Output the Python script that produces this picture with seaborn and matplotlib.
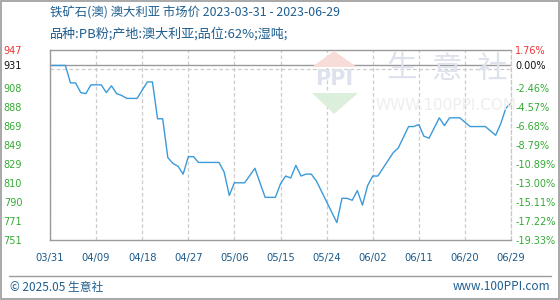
import matplotlib
matplotlib.use("Agg")
import matplotlib.pyplot as plt
from matplotlib.patches import Polygon
from matplotlib.lines import Line2D
import seaborn as sns
import pandas as pd

# ---------------- data ----------------
dates = ["2023-03-31", "2023-04-03", "2023-04-04", "2023-04-05", "2023-04-06", "2023-04-07",
         "2023-04-08", "2023-04-10", "2023-04-11", "2023-04-12", "2023-04-13", "2023-04-14",
         "2023-04-15", "2023-04-17", "2023-04-19", "2023-04-20", "2023-04-21", "2023-04-22",
         "2023-04-23", "2023-04-24", "2023-04-25", "2023-04-26", "2023-04-27", "2023-04-28",
         "2023-04-29", "2023-05-03", "2023-05-04", "2023-05-05", "2023-05-06", "2023-05-08",
         "2023-05-10", "2023-05-12", "2023-05-14", "2023-05-15", "2023-05-16", "2023-05-17",
         "2023-05-18", "2023-05-19", "2023-05-20", "2023-05-21", "2023-05-22", "2023-05-26",
         "2023-05-27", "2023-05-28", "2023-05-29", "2023-05-30", "2023-05-31", "2023-06-01",
         "2023-06-02", "2023-06-03", "2023-06-06", "2023-06-07", "2023-06-09", "2023-06-10",
         "2023-06-11", "2023-06-12", "2023-06-13", "2023-06-15", "2023-06-16", "2023-06-17",
         "2023-06-19", "2023-06-21", "2023-06-24", "2023-06-26", "2023-06-27", "2023-06-28",
         "2023-06-29"]
prices = [931, 931, 913, 913, 903, 902,
          911, 911, 903, 910, 902, 900,
          897, 897, 914, 914, 876, 876,
          836, 830, 827, 819, 837, 837,
          831, 831, 821, 797, 810, 810,
          825, 795, 795, 809, 817, 815,
          828, 817, 819, 819, 812, 769,
          794, 794, 792, 802, 787, 807,
          817, 817, 841, 846, 868, 868,
          870, 858, 856, 877, 869, 877,
          877, 868, 868, 859, 871, 887,
          892]

x_tick_dates = ["2023-03-31", "2023-04-09", "2023-04-18", "2023-04-27", "2023-05-06", "2023-05-15",
                "2023-05-24", "2023-06-02", "2023-06-11", "2023-06-20", "2023-06-29"]
x_tick_labels = ["03/31", "04/09", "04/18", "04/27", "05/06", "05/15",
                 "05/24", "06/02", "06/11", "06/20", "06/29"]

base_price = 931
grid_values = [751.04, 770.68, 790.32, 809.96, 829.60, 849.24, 868.88, 888.52, 908.16, 927.80, 947.44]
left_tick_values = [751.04, 770.68, 790.32, 809.96, 829.60, 849.24, 868.88, 888.52, 908.16, 931, 947.44]
left_tick_labels = ["751", "771", "790", "810", "829", "849", "869", "888", "908", "931", "947"]
right_tick_labels = ["-19.33%", "-17.22%", "-15.11%", "-13.00%", "-10.89%", "-8.79%", "-6.68%",
                     "-4.57%", "-2.46%", "0.00%", "1.76%"]

title = "铁矿石(澳) 澳大利亚 市场价 2023-03-31 - 2023-06-29"
subtitle = "品种:PB粉;产地:澳大利亚;品位:62%;湿吨;"
footer_left = "© 2025.05 生意社"
footer_right = "www.100PPI.com"

# ---------------- style ----------------
sns.set_theme(style="white")
plt.rcParams['font.family'] = ['Noto Sans CJK SC', 'DejaVu Sans']
plt.rcParams['axes.unicode_minus'] = False

W, H = 560, 300
fig = plt.figure(figsize=(W / 100, H / 100), dpi=100)
fig.patch.set_facecolor("white")


def fx(x):
    return x / W


def fy(y):
    return 1 - y / H


# watermark (behind the axes)
wm_color = "#dde2ec"
fig.patches.append(Polygon([(fx(312), fy(67)), (fx(334), fy(51)), (fx(357), fy(67))],
                           closed=True, transform=fig.transFigure, facecolor="#f7dcd8",
                           edgecolor="none", zorder=0))
fig.patches.append(Polygon([(fx(312), fy(93)), (fx(358), fy(93)), (fx(334), fy(114))],
                           closed=True, transform=fig.transFigure, facecolor="#dcefdc",
                           edgecolor="none", zorder=0))
fig.text(fx(334), fy(79), "PPI", fontsize=15, color=wm_color, ha="center", va="center",
         family="DejaVu Sans", fontweight="bold", zorder=0)
for cx, ch in zip([402, 446, 491], ["生", "意", "社"]):
    fig.text(fx(cx), fy(69), ch, fontsize=22, color=wm_color, ha="center", va="center", zorder=0)
fig.text(fx(446), fy(105), "WWW.100PPI.COM", fontsize=11, color="#eeeeee", ha="center",
         va="center", family="DejaVu Sans", zorder=0)

ax = fig.add_axes([fx(50), fy(240), (511 - 50) / W, (240 - 49.5) / H])
ax.patch.set_alpha(0)

df = pd.DataFrame({"date": pd.to_datetime(dates), "price": prices})
sns.lineplot(data=df, x="date", y="price", ax=ax, color="#3b9ad9", linewidth=1.0)

ax.set_xlim(pd.Timestamp(x_tick_dates[0]), pd.Timestamp(x_tick_dates[-1]))
ax.set_ylim(grid_values[0], grid_values[-1])
ax.set_xlabel("")
ax.set_ylabel("")

# grid
ax.set_yticks(grid_values, minor=True)
ax.set_xticks(pd.to_datetime(x_tick_dates))
ax.set_xticklabels(x_tick_labels)
ax.grid(False)
ax.grid(True, which="minor", axis="y", color="#cccccc", linestyle=(0, (3, 2)), linewidth=0.9)
ax.grid(True, which="major", axis="x", color="#cccccc", linestyle=(0, (3, 2)), linewidth=0.9)
ax.axhline(base_price, color="#9a9a9a", linewidth=1.0, zorder=1)

ax.set_yticks(left_tick_values)
ax.set_yticklabels(left_tick_labels)
ax.tick_params(axis="y", which="both", length=0, pad=20, labelsize=7, labelcolor="#33aa33")
ax.tick_params(axis="x", length=0, pad=9, labelsize=7.2, labelcolor="#1a5a8a")
for lab in ax.get_xticklabels():
    lab.set_family("DejaVu Sans")
ylabs = ax.get_yticklabels()
for lab in ylabs:
    lab.set_family("DejaVu Sans")
ylabs[-1].set_color("#ee3333")
ylabs[-2].set_color("#111111")

for side in ["left", "bottom", "top"]:
    ax.spines[side].set_color("#9a9a9a")
    ax.spines[side].set_linewidth(1.0)
ax.spines["right"].set_color("#c8c8c8")
ax.spines["right"].set_linewidth(0.9)
ax.spines["right"].set_linestyle((0, (3, 2)))

ax2 = ax.twinx()
ax2.set_ylim(ax.get_ylim())
ax2.set_yticks(left_tick_values)
ax2.set_yticklabels(right_tick_labels)
ax2.tick_params(axis="y", length=0, pad=3, labelsize=7, labelcolor="#33aa33")
rlabs = ax2.get_yticklabels()
for lab in rlabs:
    lab.set_family("DejaVu Sans")
rlabs[-1].set_color("#ee3333")
rlabs[-2].set_color("#111111")
for s in ax2.spines.values():
    s.set_visible(False)
ax2.grid(False)

# titles
fig.text(fx(50), fy(13), title, fontsize=8.9, color="#1f5f8f", ha="left", va="center")
fig.text(fx(50), fy(34), subtitle, fontsize=9.4, color="#1f5f8f", ha="left", va="center")

# footer
fig.lines.append(Line2D([fx(9), fx(551)], [fy(275.5), fy(275.5)], transform=fig.transFigure,
                        color="#9a9a9a", linewidth=1.0))
fig.text(fx(10), fy(287), footer_left, fontsize=8.5, color="#1f5f8f", ha="left", va="center")
fig.text(fx(550), fy(287), footer_right, fontsize=8.5, color="#1f5f8f", ha="right", va="center")

# outer frame
fig.patches.append(plt.Rectangle((0.001, 0.002), 0.997, 0.996, transform=fig.transFigure,
                                 fill=False, edgecolor="#9a9a9a", linewidth=1.2))

fig.savefig("out.png", dpi=100)
